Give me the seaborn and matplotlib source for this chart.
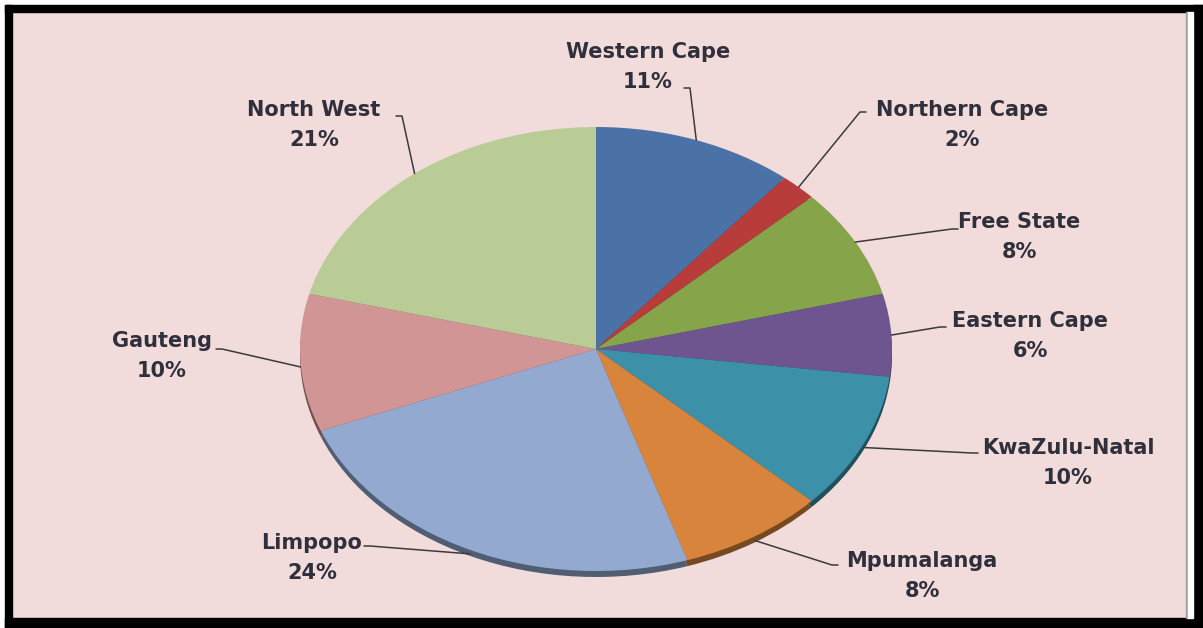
import numpy as np
import matplotlib
matplotlib.use("Agg")
import matplotlib.pyplot as plt
import matplotlib.colors as mcolors
from matplotlib.patches import Rectangle
import seaborn as sns

# ---- data ----
provinces = ["Western Cape", "Northern Cape", "Free State", "Eastern Cape",
             "KwaZulu-Natal", "Mpumalanga", "Limpopo", "Gauteng", "North West"]
shares = [11, 2, 8, 6, 10, 8, 24, 10, 21]
colors = ["#4a72a6", "#b83c3a", "#86a44a", "#6e558f", "#3c91a8",
          "#d9843c", "#93a9cf", "#d09594", "#b9cc96"]

# ---- layout (pixels of the 1203x628 canvas) ----
W, H = 1203, 628
CX, CY = 596, 349          # pie centre
RX, RY = 296, 222          # ellipse radii
# label centre (x, y of first line) and leader-line end near the text
label_pos = {
    "Western Cape": (648, 52, 690, 88, "top"),
    "Northern Cape": (962, 110, 860, 112, "left"),
    "Free State": (1019, 222, 952, 229, "left"),
    "Eastern Cape": (1030, 321, 940, 327, "left"),
    "KwaZulu-Natal": (1068, 448, 972, 453, "left"),
    "Mpumalanga": (922, 561, 832, 565, "left"),
    "Limpopo": (312, 543, 370, 546, "right"),
    "Gauteng": (162, 341, 222, 349, "right"),
    "North West": (314, 110, 402, 116, "right"),
}

sns.set_theme(style="white")
plt.rcParams["font.family"] = ["DejaVu Sans"]

fig = plt.figure(figsize=(W / 100, H / 100), dpi=100)
fig.patch.set_facecolor("white")
ax = fig.add_axes([0, 0, 1, 1])
ax.set_facecolor("#f2dcdb")

def px(x, y):
    return (x - CX) / RX, (CY - y) / RY

# background panel
ax.add_patch(Rectangle(px(12, 618), (1187 - 12) / RX, (618 - 12) / RY,
                       facecolor="#f2dcdb", edgecolor="none", zorder=0))

# 3D rim (shadow pie)
dark = [tuple(np.array(mcolors.to_rgb(c)) * 0.55) for c in colors]
ax.pie(shares, colors=dark, startangle=90, counterclock=False,
       center=(0, -6 / RY), radius=1.0, frame=True,
       wedgeprops=dict(linewidth=0, zorder=1))
ax.pie(shares, colors=colors, startangle=90, counterclock=False,
       center=(0, 0), radius=1.0, frame=True,
       wedgeprops=dict(linewidth=0, zorder=2))
ax.set_xlim(-CX / RX, (W - CX) / RX)
ax.set_ylim(-(H - CY) / RY, CY / RY)
ax.set_aspect("auto")
ax.axis("off")

# labels and leader lines
cum = np.cumsum([0] + shares[:-1])
total = sum(shares)
txt_color = "#30303c"
for name, val, c0 in zip(provinces, shares, cum):
    mid = np.deg2rad(90 - 360 * (c0 + val / 2) / total)
    ex, ey = np.cos(mid), np.sin(mid)
    if ey < 0:
        ey -= 4 / RY
    lx, ly, kx, ky, side = label_pos[name]
    tx, ty = px(lx, ly)
    ax.text(tx, ty, name, ha="center", va="center", fontsize=15,
            fontweight="bold", color=txt_color, zorder=5)
    ax.text(tx, ty - 30 / RY, f"{val}%", ha="center", va="center",
            fontsize=15, fontweight="bold", color=txt_color, zorder=5)
    kxd, kyd = px(kx, ky)
    if side == "left":
        xs = [kxd + 6 / RX, kxd, ex]
    else:
        xs = [kxd - 6 / RX, kxd, ex]
    ys = [kyd, kyd, ey]
    ax.plot(xs, ys, color="#3a3a3a", lw=1.1, zorder=4)

# frame
fa = fig.add_axes([0, 0, 1, 1], facecolor="none")
fa.set_xlim(0, W); fa.set_ylim(H, 0); fa.axis("off")
fa.add_patch(Rectangle((5, 5), W - 5, 7, color="black"))
fa.add_patch(Rectangle((5, 5), 7, H - 5, color="black"))
fa.add_patch(Rectangle((5, 618), W - 5, 10, color="black"))
fa.add_patch(Rectangle((1193, 5), 10, H - 5, color="black"))
fa.add_patch(Rectangle((1186, 12), 2, 606, color="#a0a0a0"))
fa.add_patch(Rectangle((1188, 12), 5, 606, color="white"))

fig.savefig("out.png", dpi=100)
